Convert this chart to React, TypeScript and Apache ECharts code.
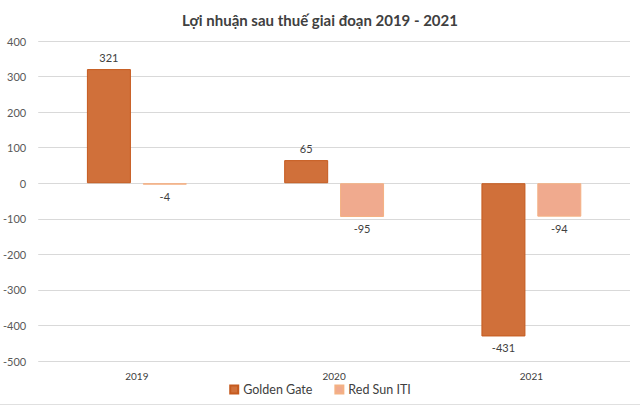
import React, { useEffect, useRef } from "react";
import * as echarts from "echarts";

const categories = ["2019", "2020", "2021"];
const goldenGate = [321, 65, -431];
const redSun = [-4, -95, -94];
const seriesNames = ["Golden Gate", "Red Sun ITI"];
const titleText = "Lợi nhuận sau thuế giai đoạn 2019 - 2021";

export default function App() {
  const ref = useRef<HTMLDivElement>(null);
  useEffect(() => {
    const chart = echarts.init(ref.current!, null, { renderer: "svg" });
    const font = "Lato, 'Open Sans', sans-serif";
    chart.setOption({
      animation: false,
      backgroundColor: "#ffffff",
      title: {
        text: titleText,
        left: "center",
        top: 7,
        textStyle: { fontFamily: font, fontSize: 15, fontWeight: "bold", color: "#404040" },
      },
      grid: { left: 36, right: 10, top: 41, bottom: 44, containLabel: false },
      legend: {
        bottom: 4,
        left: "center",
        itemWidth: 8,
        itemHeight: 8,
        itemGap: 22,
        icon: "rect",
        textStyle: { fontFamily: font, fontSize: 12.5, color: "#404040" },
        data: seriesNames,
      },
      graphic: [
        {
          type: "line",
          shape: { x1: 0, y1: 404.5, x2: 640, y2: 404.5 },
          style: { stroke: "#e0e0e0", lineWidth: 1 },
          silent: true,
        },
      ],
      xAxis: {
        type: "category",
        data: categories,
        axisLine: { show: false },
        axisTick: { show: false },
        axisLabel: { fontFamily: font, fontSize: 10, color: "#404040", margin: 10 },
      },
      yAxis: {
        type: "value",
        min: -500,
        max: 400,
        interval: 100,
        axisLine: { show: false },
        axisTick: { show: false },
        axisLabel: { fontFamily: font, fontSize: 11, color: "#595959", margin: 12 },
        splitLine: { lineStyle: { color: "#d9d9d9", width: 1 } },
      },
      series: [
        {
          name: seriesNames[0],
          type: "bar",
          data: goldenGate,
          barWidth: 44,
          barGap: "27%",
          itemStyle: { color: "#D0703A", borderColor: "#C55A1E", borderWidth: 1 },
          label: { show: true, position: "outside", fontFamily: font, fontSize: 11, color: "#404040", distance: 6 },
        },
        {
          name: seriesNames[1],
          type: "bar",
          data: redSun,
          barWidth: 44,
          barGap: "27%",
          itemStyle: { color: "#F0AA8E", borderColor: "#F4B183", borderWidth: 1 },
          label: { show: true, position: "outside", fontFamily: font, fontSize: 11, color: "#404040", distance: 6 },
        },
      ],
    });
    return () => chart.dispose();
  }, []);
  return <div ref={ref} style={{ width: 640, height: 405, position: "absolute", left: 0, top: 0 }} />;
}
